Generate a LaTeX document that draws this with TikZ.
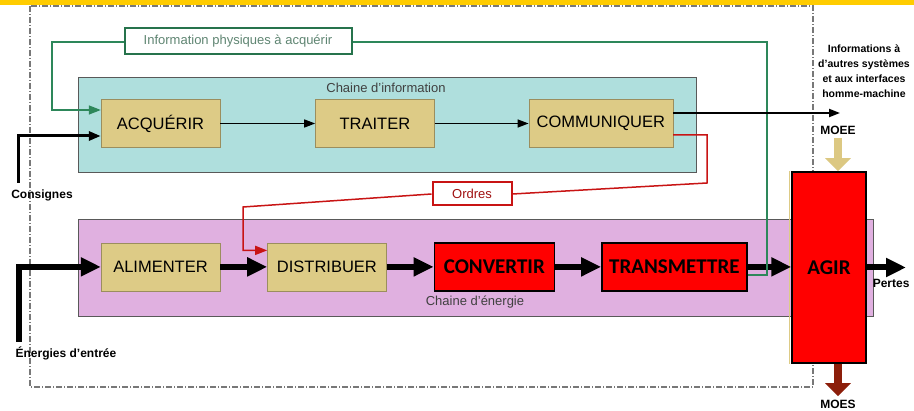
\documentclass[tikz,border=0pt]{standalone}
\usepackage{fontspec}
\setmainfont{Liberation Sans}
\newfontfamily\calibri{Carlito}
\usepackage{xcolor}
\usepackage{tikz}
\usetikzlibrary{positioning,arrows.meta}

\definecolor{khaki}{RGB}{221,203,134}
\definecolor{infocyan}{RGB}{175,223,221}
\definecolor{energypink}{RGB}{224,176,224}
\definecolor{framegray}{RGB}{120,120,120}
\definecolor{fbgreen}{RGB}{45,135,90}
\definecolor{ordrered}{RGB}{200,20,20}
\definecolor{moeetan}{RGB}{220,200,130}
\definecolor{moesbrown}{RGB}{140,30,10}
\definecolor{gold}{RGB}{255,204,0}

\begin{document}
\begin{tikzpicture}[
    x=1pt, y=-1pt,
    box/.style={rectangle, draw=khaki!70!black, fill=khaki, minimum width=119pt, minimum height=48pt, inner sep=0pt, font=\fontsize{16.5}{18}\selectfont},
    actbox/.style={rectangle, draw, line width=1.5pt, fill=red, minimum height=48pt, inner sep=0pt, font=\calibri\bfseries\fontsize{21}{24}\selectfont},
    panel/.style={rectangle, draw=black!65, line width=0.8pt, inner sep=0pt},
    chainlabel/.style={font=\fontsize{13}{15}\selectfont, text=black!75},
    tag/.style={font=\bfseries\fontsize{12}{15}\selectfont, align=center},
    linkbox/.style={rectangle, draw, line width=2pt, fill=white, inner sep=0pt, font=\fontsize{13}{15}\selectfont},
    arrow/.style={-{Triangle[length=11pt,width=8pt]}, line width=1.4pt},
    bigarrow/.style={-{Triangle[length=20pt,width=18pt]}, line width=6pt},
    fatarrow/.style={-{Triangle[length=13pt,width=25pt]}, line width=8pt}
]
\useasboundingbox (0,0) rectangle (914,411);
\fill[gold] (0,0) rectangle (914,5);

% System boundary
\draw[framegray, line width=1.2pt, dash pattern=on 6pt off 2pt on 1pt off 2pt] (30,6) rectangle (813,387);

% Chains
\node[panel, fill=infocyan, minimum width=618pt, minimum height=95pt] (infochain) at (387,124.5) {};
\node[panel, fill=energypink, minimum width=795pt, minimum height=97pt] (energychain) at (475.5,267.5) {};
\node[chainlabel] (infolabel) at (386,88) {Chaine d’information};
\node[chainlabel] (energylabel) at (475,302) {Chaine d’énergie};

\node[box] (acquerir) at (160.5,123.5) {ACQUÉRIR};
\node[box, right=95pt of acquerir] (traiter) {TRAITER};
\node[box, minimum width=144pt, right=94pt of traiter] (communiquer) {COMMUNIQUER};

\node[box, below=95pt of acquerir] (alimenter) {ALIMENTER};
\node[box, right=47pt of alimenter] (distribuer) {DISTRIBUER};
\node[actbox, minimum width=120pt, right=47pt of distribuer] (convertir) {CONVERTIR};
\node[actbox, minimum width=145pt, right=46pt of convertir] (transmettre) {TRANSMETTRE};
\node[actbox, minimum width=74pt, minimum height=191pt] (agir) at (829,267.5) {AGIR};
\draw[khaki, line width=1.5pt] ([xshift=-2pt]agir.north west) -- ([xshift=-2pt]agir.south west);

\draw[arrow] (acquerir) -- (traiter);
\draw[arrow] (traiter) -- (communiquer);
\draw[bigarrow] (alimenter) -- (distribuer);
\draw[bigarrow] (distribuer) -- (convertir);
\draw[bigarrow] (convertir) -- (transmettre);
\draw[bigarrow] (transmettre.east) -- (agir.west |- transmettre.east);

% Inputs
\node[tag] (consignes) at (42,195) {Consignes};
\coordinate (consigneend) at (18,183);
\draw[-{Triangle[length=12pt,width=9pt]}, line width=3pt] (consigneend) |- ([yshift=-12.5pt]acquerir.west);
\node[tag] (energies) at (66,353) {Énergies d’entrée};
\coordinate (energyend) at (19,342);
\draw[bigarrow] (energyend) |- (alimenter.west);

% Feedback path
\coordinate (fbright) at (767,42);
\coordinate (fbleft) at (52,42);
\draw[fbgreen, line width=1.5pt, -{Triangle[length=12pt,width=9pt]}] ([yshift=-8pt]transmettre.east) -| (fbright) -- (fbleft) |- ([yshift=13.5pt]acquerir.west);
\node[linkbox, draw=fbgreen!85!black, text=fbgreen!60!black!70, minimum width=227pt, minimum height=26pt] (physlabel) at (238,41) {Information physiques à acquérir};

% Orders
\coordinate (ordresright) at (707,183);
\coordinate (ordresleft) at (243,207);
\node[linkbox, draw=ordrered, text=ordrered!80!black, minimum width=79pt, minimum height=23pt] (ordres) at (472,194) {Ordres};
\draw[ordrered, line width=1.5pt] ([yshift=-11.5pt]communiquer.east) -| (ordresright) -- (ordres.east);
\draw[ordrered, line width=1.5pt, -{Triangle[length=12pt,width=9pt]}] (ordres.west) -- (ordresleft) |- ([yshift=16.5pt]distribuer.west);

% Outputs
\coordinate (infoout) at (840,113);
\draw[arrow, line width=2pt] ([yshift=10.5pt]communiquer.east) -- (infoout);
\node[tag, font=\bfseries\fontsize{10.5}{15}\selectfont] (infosys) at (864,71) {Informations à\\d’autres systèmes\\et aux interfaces\\homme-machine};
\node[tag] (moee) at (838,130) {MOEE};
\draw[fatarrow, moeetan] (moee.south) -- (agir.north -| moee.south);
\node[tag] (moes) at (838,404) {MOES};
\draw[fatarrow, moesbrown] (agir.south -| moes.north) -- (moes.north);
\coordinate (pertesout) at (906,267.5);
\draw[bigarrow] (agir.east) -- (pertesout);
\node[tag, anchor=east] (pertes) at (913,283) {Pertes};
\end{tikzpicture}
\end{document}
